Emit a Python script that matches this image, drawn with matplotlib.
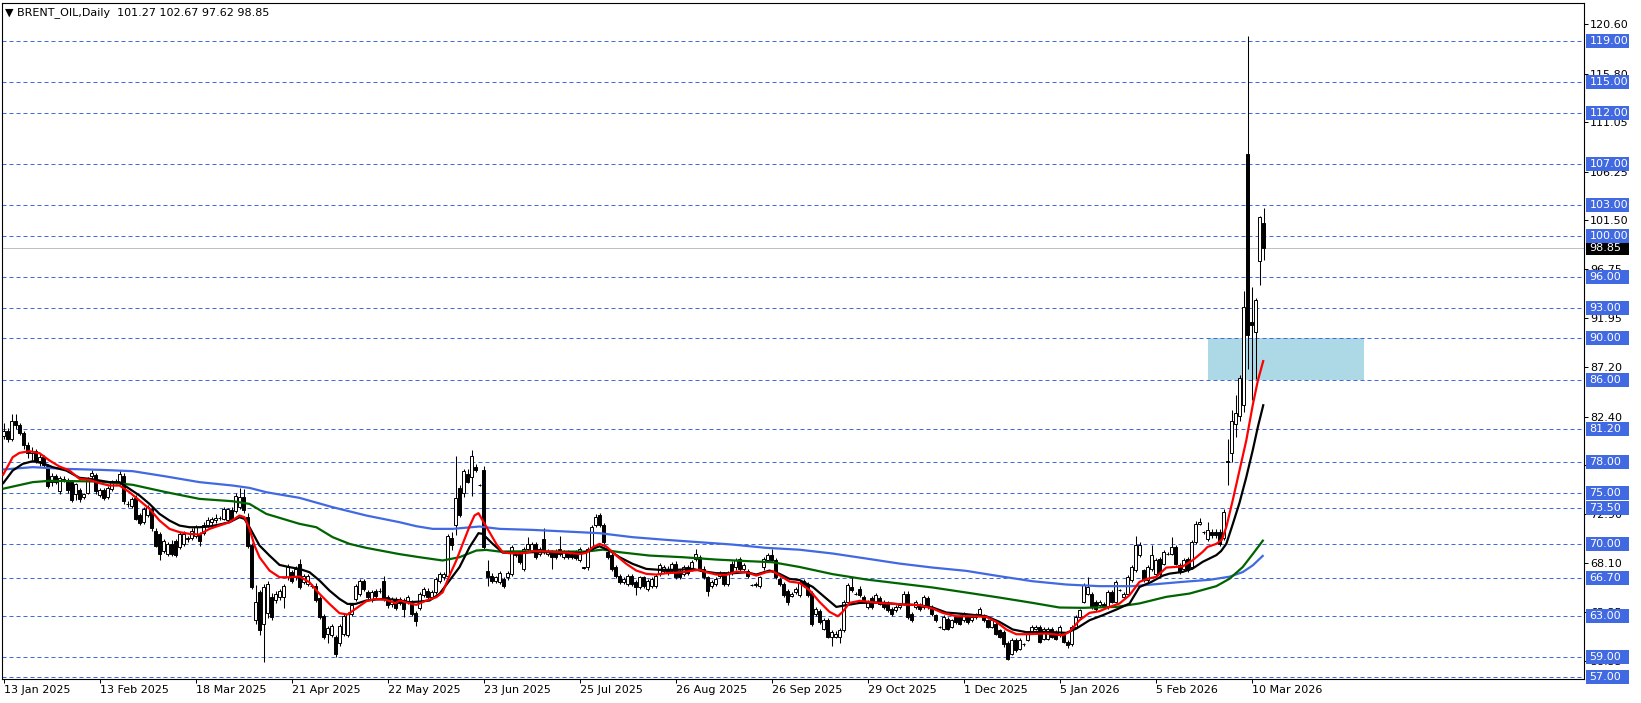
import matplotlib
matplotlib.use("Agg")
import matplotlib.pyplot as plt
import matplotlib.transforms as mtransforms
from matplotlib.patches import Rectangle
import numpy as np

# ---------------- data ----------------
opens = [
    80.5, 81.0, 80.2, 82.0, 81.6, 80.8, 79.6, 78.8, 79.0, 78.1,
    78.5, 77.6, 76.0, 76.6, 75.1, 76.3, 76.2, 76.0, 74.9, 75.2,
    74.6, 75.0, 76.6, 76.7, 74.8, 75.2, 74.6, 75.3, 76.0, 75.9,
    76.6, 73.9, 73.7, 74.5, 72.8, 72.1, 72.8, 73.4, 71.3, 71.0,
    69.3, 69.0, 70.0, 70.3, 69.7, 70.0, 70.5, 70.6, 70.8, 71.0,
    71.1, 71.8, 72.1, 72.3, 72.5, 72.4, 72.3, 73.3, 73.2, 73.6,
    74.6, 72.6, 69.9, 62.6, 65.3, 62.2, 63.3, 64.8, 64.5, 64.8,
    64.8, 66.75, 67.24, 66.75, 68.05, 66.3, 66.1, 65.9, 65.94, 64.7,
    63.0, 61.2, 61.1, 60.9, 60.3, 61.2, 61.1, 63.2, 64.6, 65.1,
    66.4, 65.3, 64.5, 65.45, 65.45, 66.4, 64.8, 64.15, 64.6, 64.6,
    64.5, 64.3, 64.3, 63.3, 63.8, 65.0, 65.45, 64.8, 65.3, 66.4,
    66.75, 66.9, 70.6, 71.8, 75.4, 75.0, 76.8, 76.5, 77.5, 75.7,
    77.2, 67.4, 66.9, 66.4, 66.3, 66.6, 66.75, 67.1, 68.9, 69.0,
    67.6, 69.5, 69.35, 70.0, 69.0, 70.5, 69.0, 69.2, 69.35, 69.5,
    68.7, 69.2, 69.0, 69.2, 68.4, 67.7, 67.7, 69.5, 71.8, 72.8,
    71.8, 69.2, 68.9, 67.7, 66.9, 66.3, 66.1, 66.9, 66.3, 65.8,
    66.75, 65.6, 65.9, 65.9, 67.1, 67.4, 67.6, 67.4, 68.05, 67.4,
    67.1, 67.7, 67.6, 68.5, 68.7, 67.6, 66.75, 65.9, 66.1, 66.9,
    67.1, 66.1, 68.05, 67.7, 68.5, 67.6, 67.4, 66.0, 65.95, 65.9,
    67.7, 68.4, 68.9, 68.4, 66.6, 66.1, 65.45, 64.97, 65.3, 65.0,
    66.4, 66.1, 65.2, 63.2, 63.5, 61.75, 62.56, 60.94, 60.94, 60.94,
    61.59, 64.35, 65.8, 65.16, 65.65, 64.84, 63.86, 64.68, 64.35, 64.68,
    64.35, 64.19, 63.70, 63.54, 63.86, 64.19, 65.16, 63.21, 63.86, 64.03,
    63.86, 64.68, 63.86, 63.05, 61.92, 61.75, 62.73, 61.92, 62.89, 62.89,
    62.56, 62.89, 62.56, 63.21, 63.21, 63.05, 62.56, 61.92, 62.24, 61.59,
    61.43, 60.36, 59.32, 60.62, 59.81, 60.2, 60.62, 61.43, 61.75, 61.92,
    60.78, 60.78, 61.75, 61.43, 61.1, 61.1, 60.45, 60.29, 61.92, 62.89,
    64.35, 65.16, 65.16, 64.35, 64.03, 64.19, 63.86, 65.32, 64.35, 65.49,
    64.84, 65.16, 66.46, 67.44, 68.90, 67.44, 66.46, 67.6, 67.11, 68.57,
    68.08, 69.06, 69.06, 69.71, 67.92, 67.6, 68.57, 67.76, 70.19, 71.98,
    71.17, 70.52, 71.17, 71.17, 71.17, 70.6, 78.1, 78.8, 81.7, 82.5,
    83.5, 108.0, 91.6, 90.6, 97.5, 101.27,
]
highs = [
    81.8, 81.3, 82.6, 82.6, 81.8, 81.0, 79.9, 79.4, 79.2, 78.8,
    78.7, 77.8, 76.9, 76.8, 76.6, 76.6, 76.4, 76.2, 75.9, 75.4,
    75.0, 76.5, 77.2, 76.9, 75.4, 75.4, 75.6, 76.2, 76.3, 77.2,
    76.9, 74.2, 74.6, 74.8, 73.0, 73.6, 73.8, 73.6, 71.5, 71.2,
    70.5, 70.2, 70.4, 70.5, 71.2, 71.3, 70.8, 71.5, 71.8, 71.2,
    72.1, 72.6, 72.6, 72.9, 72.7, 73.6, 73.5, 73.6, 75.0, 75.4,
    75.3, 73.0, 70.1, 66.0, 65.5, 66.1, 66.4, 65.2, 65.4, 65.6,
    66.1, 68.05, 67.5, 67.8, 68.5, 67.1, 67.1, 66.1, 66.2, 64.9,
    63.2, 62.0, 62.2, 61.1, 62.2, 63.2, 63.4, 64.2, 66.1, 66.6,
    66.6, 65.5, 65.5, 65.6, 65.7, 66.9, 65.0, 64.8, 64.8, 64.8,
    64.7, 65.0, 64.5, 63.5, 65.3, 65.8, 65.7, 65.5, 66.8, 67.3,
    67.3, 71.0, 71.2, 78.6, 75.7, 77.3, 77.3, 79.1, 77.8, 75.8,
    77.6, 68.4, 67.2, 66.9, 67.4, 66.8, 67.4, 69.9, 69.3, 69.2,
    69.7, 70.65, 70.2, 70.2, 69.7, 71.5, 69.5, 69.4, 69.5, 70.8,
    69.4, 69.4, 69.2, 69.4, 69.7, 67.75, 69.7, 71.8, 72.9, 73.0,
    72.0, 69.4, 69.1, 67.9, 67.1, 66.8, 67.1, 67.1, 66.5, 66.9,
    66.9, 66.6, 66.8, 67.1, 68.1, 67.9, 67.8, 68.2, 68.3, 67.6,
    67.9, 67.9, 68.4, 69.5, 68.9, 67.8, 66.9, 66.5, 66.8, 67.4,
    67.3, 67.4, 68.3, 68.6, 68.7, 68.1, 67.6, 66.1, 66.3, 66.9,
    68.7, 69.1, 69.5, 68.6, 66.8, 66.3, 65.6, 65.3, 65.8, 66.5,
    66.6, 66.3, 65.4, 63.9, 63.7, 62.8, 62.8, 61.6, 61.5, 61.8,
    64.5, 66.2, 66.8, 65.3, 65.9, 65.0, 64.5, 64.9, 65.2, 64.9,
    64.5, 64.4, 63.9, 64.0, 64.2, 65.4, 65.4, 63.4, 64.5, 64.2,
    65.0, 64.9, 64.0, 63.2, 62.0, 63.1, 62.9, 62.7, 63.0, 63.1,
    63.4, 63.0, 63.0, 63.3, 63.9, 63.2, 62.7, 62.7, 62.4, 61.7,
    61.6, 60.5, 60.8, 60.8, 60.8, 60.3, 61.4, 62.1, 62.1, 62.1,
    61.9, 61.9, 61.9, 61.6, 62.1, 61.3, 60.6, 62.1, 63.1, 63.7,
    66.2, 66.8, 65.3, 64.5, 64.5, 64.3, 65.5, 65.5, 66.5, 65.6,
    65.3, 67.0, 67.9, 70.8, 70.2, 67.6, 67.9, 69.87, 68.6, 68.7,
    69.4, 69.2, 70.68, 69.9, 68.1, 68.6, 68.7, 70.4, 72.2, 72.47,
    71.3, 72.14, 71.4, 71.4, 71.4, 73.4, 80.2, 83.0, 84.5, 86.4,
    94.6, 119.5, 95.0, 93.9, 101.9, 102.67,
]
lows = [
    80.2, 79.9, 80.0, 81.2, 80.6, 79.2, 78.4, 78.2, 77.9, 77.6,
    77.5, 75.4, 75.6, 75.8, 74.9, 76.0, 75.0, 74.1, 74.3, 74.1,
    74.4, 74.9, 76.3, 74.9, 74.6, 74.3, 74.4, 75.1, 75.8, 75.7,
    73.9, 73.6, 73.5, 72.3, 71.8, 71.9, 72.6, 71.3, 69.7, 68.4,
    69.1, 68.8, 68.8, 68.7, 69.5, 69.8, 70.2, 70.4, 70.6, 69.8,
    70.9, 71.6, 71.8, 72.0, 72.3, 72.3, 72.1, 72.2, 73.0, 73.4,
    73.0, 69.6, 65.6, 62.2, 61.1, 58.5, 62.8, 62.6, 64.2, 64.5,
    63.8, 66.5, 66.2, 66.5, 65.6, 66.1, 65.9, 65.7, 64.3, 62.7,
    60.7, 60.3, 60.9, 59.0, 60.1, 61.0, 60.9, 63.0, 64.4, 64.9,
    65.4, 64.6, 64.3, 64.7, 65.2, 64.4, 63.8, 63.9, 63.6, 64.0,
    62.9, 64.1, 63.0, 62.0, 63.6, 64.8, 64.6, 64.6, 65.1, 66.2,
    66.5, 66.8, 69.4, 70.9, 72.6, 74.6, 75.9, 74.7, 77.0, 75.6,
    69.4, 65.9, 66.2, 66.2, 66.1, 65.7, 66.5, 66.9, 68.7, 68.0,
    67.4, 69.3, 69.2, 68.5, 68.8, 69.0, 68.8, 67.6, 68.5, 68.8,
    68.5, 68.5, 68.5, 68.4, 68.2, 67.6, 67.5, 69.3, 71.6, 71.6,
    70.0, 68.5, 67.4, 66.7, 66.1, 66.1, 65.9, 65.9, 65.0, 65.6,
    65.7, 65.4, 65.7, 65.7, 66.9, 67.2, 67.0, 67.2, 66.6, 66.6,
    66.9, 67.0, 67.4, 68.3, 67.4, 66.6, 64.9, 65.7, 65.9, 66.7,
    65.9, 65.9, 67.0, 67.5, 67.4, 67.4, 66.7, 65.9, 65.8, 65.7,
    67.5, 68.2, 68.2, 66.6, 65.9, 64.8, 64.0, 64.8, 65.1, 64.8,
    65.8, 64.8, 62.0, 63.0, 62.2, 61.6, 60.8, 60.1, 60.8, 60.36,
    61.4, 64.2, 65.3, 65.0, 64.8, 64.2, 63.7, 63.7, 64.2, 64.0,
    63.7, 63.4, 63.0, 63.4, 63.7, 64.0, 62.7, 62.4, 63.7, 63.5,
    63.7, 63.7, 63.0, 62.4, 61.8, 61.6, 61.6, 61.8, 62.2, 62.1,
    62.4, 62.2, 62.4, 62.7, 63.1, 62.4, 61.8, 61.8, 61.1, 60.8,
    59.97, 58.67, 59.2, 59.5, 59.7, 60.1, 60.5, 61.3, 61.6, 60.3,
    60.6, 60.6, 60.8, 60.6, 60.9, 60.3, 59.9, 60.1, 61.8, 62.7,
    64.2, 65.0, 63.7, 63.5, 63.9, 63.7, 63.7, 64.2, 64.2, 65.4,
    64.7, 65.0, 66.3, 67.3, 68.7, 66.3, 66.3, 67.4, 66.9, 66.9,
    67.9, 68.9, 68.9, 67.9, 67.1, 67.4, 67.3, 67.6, 70.0, 71.8,
    71.0, 70.3, 70.6, 70.6, 69.8, 70.4, 75.7, 78.0, 80.4, 82.0,
    82.8, 87.0, 84.0, 86.1, 95.2, 97.62,
]
closes = [
    81.0, 80.2, 82.0, 81.6, 80.8, 79.6, 78.8, 79.0, 78.1, 78.5,
    77.7, 75.6, 76.6, 76.0, 76.4, 76.2, 75.2, 74.3, 75.8, 74.4,
    74.9, 76.2, 76.9, 75.1, 75.2, 74.5, 75.4, 76.0, 76.0, 76.8,
    74.2, 73.9, 74.4, 72.4, 72.0, 73.4, 73.6, 71.5, 69.8, 69.0,
    70.3, 70.0, 69.0, 68.9, 71.0, 71.0, 70.6, 71.3, 71.6, 70.3,
    71.8, 72.3, 72.4, 72.5, 72.5, 73.4, 73.4, 72.4, 74.7, 74.6,
    73.3, 69.8, 65.8, 64.3, 61.6, 65.8, 66.1, 62.9, 65.1, 65.45,
    65.9, 67.7, 66.4, 67.56, 65.8, 66.9, 66.9, 65.9, 64.5, 62.9,
    60.9, 61.8, 62.0, 59.3, 62.0, 63.0, 63.2, 64.0, 65.9, 66.4,
    65.6, 64.8, 65.3, 64.9, 65.45, 64.6, 64.0, 64.6, 63.8, 64.2,
    63.7, 64.8, 63.2, 62.5, 65.1, 65.6, 64.8, 65.3, 66.6, 67.1,
    67.1, 70.8, 69.9, 74.5, 72.8, 77.1, 76.0, 78.6, 77.2, 75.7,
    69.7, 66.75, 66.4, 66.75, 67.2, 65.9, 67.2, 69.7, 69.0, 68.2,
    69.5, 70.0, 70.0, 68.7, 69.5, 69.2, 69.35, 68.7, 68.7, 69.0,
    69.2, 68.7, 68.7, 68.6, 69.5, 67.65, 69.5, 71.6, 72.6, 71.8,
    70.2, 68.7, 67.6, 66.9, 66.3, 66.6, 66.9, 66.1, 65.8, 66.75,
    65.9, 66.4, 66.6, 66.9, 67.9, 67.7, 67.2, 68.05, 66.75, 66.75,
    67.7, 67.2, 68.2, 69.0, 67.6, 66.75, 65.45, 66.3, 66.6, 67.2,
    66.1, 67.2, 67.2, 68.4, 67.6, 67.9, 66.9, 66.0, 66.1, 66.75,
    68.5, 68.9, 68.4, 66.75, 66.1, 65.0, 64.3, 65.13, 65.6, 66.3,
    66.0, 65.0, 62.2, 63.7, 62.4, 62.56, 60.94, 61.43, 61.27, 61.59,
    64.35, 65.97, 65.5, 65.16, 65.0, 64.35, 64.35, 63.86, 65.0, 64.19,
    63.86, 63.54, 63.21, 63.86, 64.03, 65.16, 62.89, 62.56, 64.35, 63.70,
    64.84, 63.86, 63.21, 62.56, 61.92, 62.89, 61.75, 62.56, 62.40, 62.24,
    63.21, 62.40, 62.89, 62.89, 63.70, 62.56, 61.92, 62.56, 61.27, 60.94,
    60.29, 58.83, 60.62, 59.64, 60.62, 60.2, 61.27, 61.92, 61.92, 60.45,
    61.75, 61.75, 60.94, 60.78, 61.92, 60.45, 60.13, 61.92, 62.89, 63.54,
    65.97, 65.81, 63.86, 63.70, 64.35, 63.86, 65.32, 64.35, 66.30, 65.49,
    65.16, 66.79, 67.76, 69.87, 69.87, 66.46, 67.76, 68.9, 68.41, 67.11,
    69.22, 69.06, 69.71, 68.08, 67.27, 68.41, 67.44, 70.19, 71.98, 72.14,
    71.17, 71.33, 70.84, 70.84, 70.03, 73.15, 78.0, 82.0, 82.7, 86.2,
    93.1, 90.3, 91.3, 93.75, 101.8, 98.85,
]

# moving averages (knots: bar index, price)
red_x = [-0.2, 2.3, 4, 6.5, 9, 11.5, 14, 16.5, 19, 21.5, 24, 26.5, 29, 31.5, 34, 36.5, 39, 41.5, 44,
         46.5, 49, 51.5, 54, 56.5, 59, 60.25, 61.5, 62.75, 64, 66.5, 69, 71.5, 74, 76.5, 79, 81.5, 84,
         86, 88, 90.7, 93, 95.7, 98, 99, 101.5, 103.2, 105.7, 108.2, 109.8, 111.5, 113.2, 114.8, 116.5,
         117.75, 118.75, 119.8, 121.5, 123.2, 124.8, 126.5, 129.8, 132.3, 136.5, 140.7, 144, 145.7,
         147.3, 149, 150.7, 153.2, 155.7, 158.2, 160.7, 163.2, 165.7, 169.8, 172.3, 174, 175.7, 178.2,
         180.7, 183.2, 185.7, 188.2, 190.7, 192.3, 194.8, 196.5, 199, 201.5, 204, 206.5, 208.6, 209.8,
         211.5, 214, 219, 224, 229, 232.3, 234.8, 238.2, 242.3, 245.7, 248.2, 250.7, 253.2, 255.7,
         260.7, 264.8, 266.5, 269, 271.5, 274, 276.5, 279, 281.5, 284, 286, 288.2, 290.7, 294.8, 297.3,
         299.8, 301, 303.2, 304.6, 305.7, 307.3, 309, 310.7, 312.3, 313.6, 315]
red_y = [76.65, 78.44, 78.86, 79.02, 78.83, 78.12, 77.53, 77.14, 76.33, 76.23, 75.91, 75.68, 75.68,
         75.03, 74.22, 73.41, 72.27, 71.46, 71.14, 70.97, 70.91, 71.46, 71.78, 72.11, 72.76, 72.60,
         71.46, 69.84, 68.70, 67.40, 66.75, 66.75, 66.82, 66.26, 65.13, 64.15, 63.25, 63.12, 63.67,
         64.41, 64.64, 64.54, 64.22, 64.48, 64.22, 64.06, 64.48, 64.80, 65.29, 66.91, 68.38, 70.00,
         71.69, 72.76, 72.99, 72.27, 71.14, 70.00, 69.19, 69.09, 69.09, 69.28, 69.25, 69.15, 69.02,
         69.12, 69.67, 70.00, 69.74, 68.86, 68.05, 67.40, 67.08, 67.01, 67.14, 67.24, 67.40, 67.47,
         67.24, 67.01, 66.98, 67.30, 67.24, 66.91, 67.24, 67.34, 66.75, 66.33, 66.20, 65.49, 64.35,
         63.38, 62.95, 63.38, 64.25, 64.45, 64.25, 64.12, 64.03, 63.70, 63.28, 62.95, 62.95, 62.89,
         62.40, 61.66, 61.20, 61.20, 61.27, 61.10, 61.43, 62.56, 63.28, 63.44, 63.86, 64.19, 65.00,
         66.30, 66.6, 66.79, 67.69, 67.8, 68.41, 69.22, 69.7, 70.0, 70.4, 71.64, 74.23, 77.16, 80.08,
         83.49, 85.92, 87.9]
black_x = [-0.2, 2.3, 4.8, 7.3, 9.8, 12.3, 15.7, 19, 21.5, 24, 26.5, 29, 31.5, 34, 36.5, 39, 41.5, 44,
           46.5, 49, 51.5, 54, 56.5, 59, 60.25, 61.5, 64, 66.5, 69, 71.5, 74, 76.5, 79, 81.5, 84, 86, 88,
           90.7, 93, 95.7, 98, 101.5, 104, 106.5, 109, 111.5, 114, 116.5, 118.75, 119.8, 122.3, 124.8,
           128.2, 132.3, 136.5, 140.7, 144.8, 147.3, 149, 151.5, 154, 157.3, 160.7, 164, 168.2, 172.3,
           174.8, 178.2, 182.3, 185.7, 188.2, 191.5, 194, 196.5, 199, 202.3, 205.7, 208.2, 210.7, 214,
           219, 224, 229, 232.3, 235.7, 240.7, 245.7, 249, 252.3, 255.7, 260.7, 265.7, 268.2, 271.5,
           274.8, 278.2, 281.5, 284, 287, 289.8, 291.5, 294.8, 297.3, 299.8, 303.2, 304.4, 305.7,
           307.3, 309, 310.7, 312.3, 313.6, 315]
black_y = [75.84, 77.14, 77.79, 78.05, 77.86, 77.47, 77.14, 76.43, 76.33, 76.17, 76.01, 76.01, 75.36,
           74.71, 73.89, 72.92, 72.27, 71.78, 71.62, 71.62, 71.69, 71.88, 72.11, 72.60, 72.43, 71.62,
           69.84, 68.86, 67.95, 67.73, 67.56, 67.24, 66.43, 65.45, 64.64, 64.15, 64.15, 64.48, 64.58,
           64.64, 64.55, 64.32, 64.38, 64.48, 65.13, 66.43, 67.73, 69.67, 71.04, 70.97, 70.00, 69.15,
           69.09, 69.19, 69.19, 69.15, 69.09, 69.51, 69.77, 69.35, 68.70, 68.05, 67.56, 67.47, 67.47,
           67.56, 67.34, 67.14, 67.14, 67.24, 67.01, 67.40, 67.08, 66.59, 66.48, 65.81, 64.68, 63.86,
           64.03, 64.25, 64.29, 64.12, 64.03, 63.80, 63.31, 63.15, 62.95, 62.40, 61.66, 61.40, 61.43,
           61.33, 61.75, 62.56, 63.05, 63.60, 64.19, 65.8, 66.3, 66.9, 67.1, 67.27, 67.6, 68.25, 68.9,
           69.3, 70.0, 71.9, 74.0, 76.5, 79.1, 81.4, 83.6]
blue_x = [-0.2, 7.3, 15.7, 24, 32.3, 40.7, 49, 57.3, 61.5, 65.7, 74, 82.3, 90.7, 99, 103.2, 107.3,
          112.3, 119, 124, 132.3, 140.7, 149, 157.3, 165.7, 174, 182.3, 190.7, 199, 207.3, 215.7, 224,
          232.3, 240.7, 249, 257.3, 265.7, 274, 282.3, 294.8, 301.5, 306.5, 309.8, 312.3, 315]
blue_y = [77.24, 77.47, 77.30, 77.21, 77.08, 76.56, 76.01, 75.68, 75.45, 75.03, 74.48, 73.57, 72.76,
          72.11, 71.72, 71.46, 71.46, 71.69, 71.46, 71.36, 71.20, 71.04, 70.65, 70.39, 70.16, 69.93,
          69.61, 69.43, 69.06, 68.57, 68.08, 67.69, 67.37, 66.85, 66.36, 66.04, 65.88, 65.88, 66.30,
          66.5, 66.8, 67.25, 67.9, 68.9]
green_x = [-0.2, 7.3, 11.5, 24, 32.3, 40.7, 49, 57.3, 61.5, 65.7, 74, 78.2, 82.3, 86.5, 90.7, 99, 104,
           109.8, 114, 118.2, 120.7, 124, 132.3, 140.7, 145.7, 149.8, 154, 161.5, 169.8, 178.2, 186.5,
           192.3, 199, 207.3, 215.7, 224, 232.3, 240.7, 249, 257.3, 264, 269.8, 278.2, 284, 290.7,
           296.5, 303.2, 306.5, 309.8, 312.3, 315]
green_y = [75.36, 76.01, 76.14, 76.07, 75.75, 75.03, 74.38, 74.15, 73.89, 72.92, 71.95, 71.62, 70.65,
           70.00, 69.61, 69.0, 68.70, 68.38, 68.70, 69.35, 69.41, 69.25, 69.28, 69.25, 69.25, 69.44,
           69.19, 68.86, 68.70, 68.47, 68.31, 68.21, 67.75, 67.05, 66.53, 66.14, 65.75, 65.26, 64.77,
           64.25, 63.80, 63.77, 63.86, 64.2, 64.84, 65.16, 65.88, 66.6, 67.74, 69.0, 70.4]

date_labels = ["13 Jan 2025", "13 Feb 2025", "18 Mar 2025", "21 Apr 2025", "22 May 2025",
               "23 Jun 2025", "25 Jul 2025", "26 Aug 2025", "26 Sep 2025", "29 Oct 2025",
               "1 Dec 2025", "5 Jan 2026", "5 Feb 2026", "10 Mar 2026"]
date_label_bars = [0, 24, 48, 72, 96, 120, 144, 168, 192, 216, 240, 264, 288, 312]
price_ticks = [120.60, 115.80, 111.05, 106.25, 101.50, 96.75, 91.95, 87.20, 82.40,
               77.65, 72.90, 68.10, 63.35, 58.55]
level_lines = [119.00, 115.00, 112.00, 107.00, 103.00, 100.00, 96.00, 93.00, 90.00,
               86.00, 81.20, 78.00, 75.00, 73.50, 70.00, 66.70, 63.00, 59.00, 57.00]
zone_low, zone_high = 86.0, 90.0
last_price = 98.85
header = "\u25BC BRENT_OIL,Daily  101.27 102.67 97.62 98.85"

# ---------------- layout ----------------
W, H = 1641, 703
fig = plt.figure(figsize=(W / 100, H / 100), dpi=100)
fig.patch.set_facecolor("white")
ax_l, ax_r, ax_t, ax_b = 2, 1584, 3, 679
ax = fig.add_axes([ax_l / W, (H - ax_b) / H, (ax_r - ax_l) / W, (ax_b - ax_t) / H])
ax.set_facecolor("white")
ax.set_xlim(-0.375, 395.125)
ax.set_ylim(56.84, 122.67)

LEVEL_C = "#4169E1"

# zone
ax.add_patch(Rectangle((301, zone_low), 39, zone_high - zone_low, facecolor="#ADD8E6",
                       edgecolor="none", zorder=1))

# levels
for lv in level_lines:
    ax.axhline(lv, color=LEVEL_C, lw=0.72, ls=(0, (4, 3)), zorder=1.5)
ax.axhline(last_price, color="#C0C0C0", lw=0.72, zorder=1.6)

# candles
o = np.array(opens); h = np.array(highs); l = np.array(lows); c = np.array(closes)
x = np.arange(len(c))
ax.vlines(x, l, h, color="black", lw=0.75, zorder=3)
up = c > o
bot = np.minimum(o, c)
hgt = np.abs(c - o)
ax.bar(x[up], hgt[up], bottom=bot[up], width=0.62, facecolor="white",
       edgecolor="black", linewidth=0.7, zorder=3.2)
ax.bar(x[~up], hgt[~up], bottom=bot[~up], width=0.62, facecolor="black",
       edgecolor="black", linewidth=0.7, zorder=3.2)

# moving averages
ax.plot(blue_x, blue_y, color="#4169E1", lw=1.6, zorder=4, solid_capstyle="butt")
ax.plot(green_x, green_y, color="#006400", lw=1.6, zorder=4, solid_capstyle="butt")
ax.plot(black_x, black_y, color="black", lw=1.6, zorder=4.1, solid_capstyle="butt")
ax.plot(red_x, red_y, color="red", lw=1.6, zorder=4.2, solid_capstyle="butt")

# axes styling
for sp in ax.spines.values():
    sp.set_color("black"); sp.set_linewidth(0.8)
ax.yaxis.tick_right()
ax.set_yticks(price_ticks)
ax.set_yticklabels([f"{t:.2f}" for t in price_ticks])
ax.tick_params(axis="y", direction="out", length=3, width=0.72, pad=1.5, labelsize=8,
               colors="black")
ax.set_xticks(date_label_bars)
ax.set_xticklabels(date_labels)
ax.tick_params(axis="x", direction="out", length=3, width=0.72, pad=1.2, labelsize=8)
for lab in ax.get_xticklabels():
    lab.set_horizontalalignment("left")

# price labels on right axis
bt = mtransforms.blended_transform_factory(ax.transAxes, ax.transData)
ppu = (ax_b - ax_t) / (122.67 - 56.84)
box_h = 14 / ppu
bx0 = (1586 - ax_l) / (ax_r - ax_l)
bw = 43 / (ax_r - ax_l)
tx = (1589.5 - ax_l) / (ax_r - ax_l)

ax.add_patch(Rectangle((bx0, last_price - box_h / 2), bw, box_h, transform=bt,
                       facecolor="black", edgecolor="none", clip_on=False, zorder=10))
ax.text(tx, last_price, f"{last_price:.2f}", transform=bt, color="white", fontsize=8,
        ha="left", va="center", clip_on=False, zorder=11)
for lv in level_lines:
    ax.add_patch(Rectangle((bx0, lv - box_h / 2), bw, box_h, transform=bt,
                           facecolor=LEVEL_C, edgecolor="none", clip_on=False, zorder=12))
    ax.text(tx, lv, f"{lv:.2f}", transform=bt, color="white", fontsize=8,
            ha="left", va="center", clip_on=False, zorder=13)

fig.text(5 / W, 1 - 13 / H, header, fontsize=8, ha="left", va="center")

fig.savefig("out.png", dpi=100)
